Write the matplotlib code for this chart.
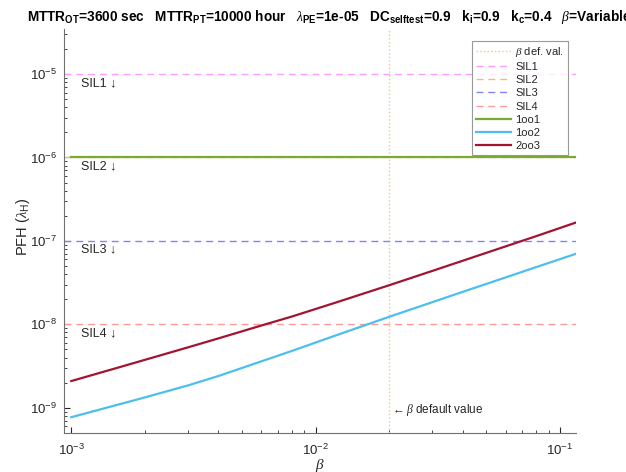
import matplotlib
matplotlib.use("Agg")
import matplotlib.pyplot as plt

plt.rcParams['font.family'] = ['Liberation Sans', 'DejaVu Sans']
plt.rcParams['mathtext.fontset'] = 'custom'
plt.rcParams['mathtext.rm'] = 'Liberation Sans'
plt.rcParams['mathtext.it'] = 'Liberation Serif:italic'
plt.rcParams['mathtext.bf'] = 'Liberation Sans:bold'

# beta sweep and PFH results
beta = [0.001, 0.0015, 0.002, 0.003, 0.004, 0.006, 0.008, 0.012,
        0.02, 0.03, 0.04, 0.06, 0.08, 0.1163]
pfh_1oo1 = [1e-6] * 14
pfh_1oo2 = [7.7e-10, 1.06e-9, 1.33e-9, 1.85e-9, 2.4e-9, 3.6e-9, 4.8e-9, 7.3e-9,
            1.23e-8, 1.84e-8, 2.45e-8, 3.65e-8, 4.85e-8, 7.0e-8]
pfh_2oo3 = [2.09e-9, 2.94e-9, 3.75e-9, 5.29e-9, 6.78e-9, 9.68e-9, 1.24e-8, 1.81e-8,
            2.94e-8, 4.36e-8, 5.78e-8, 8.6e-8, 1.14e-7, 1.66e-7]

sil_names = ["SIL1", "SIL2", "SIL3", "SIL4"]
sil_levels = [1e-5, 1e-6, 1e-7, 1e-8]
sil_colors = ["#ff9cff", "#f5b880", "#8282ff", "#ff9a9a"]
beta_default = 0.02

grey = "#262626"

fig = plt.figure(figsize=(6.26, 4.72), dpi=100)
ax = fig.add_axes([0.1016, 0.0826, 0.8184, 0.8554])
ax.set_xscale("log")
ax.set_yscale("log")

# default beta marker
ax.axvline(beta_default, color="#f8c290", ls=":", lw=1.0, label=r"$\beta$ def. val.")

# SIL limits
for name, lvl, c in zip(sil_names, sil_levels, sil_colors):
    ax.axhline(lvl, color=c, ls=(0, (5, 3.5)), lw=1.0, label=name)
    ax.text(0.001094, lvl * 0.785, name + " \u2193", fontsize=9,
            color=grey, va="center", ha="left")

ax.plot(beta, pfh_1oo1, color="#77ac30", lw=1.6, label="1oo1")
ax.plot(beta, pfh_1oo2, color="#4dbeee", lw=1.6, label="1oo2")
ax.plot(beta, pfh_2oo3, color="#a2142f", lw=1.6, label="2oo3")

ax.text(beta_default * 1.02, 1.0e-9 * 0.93, r"$\leftarrow\beta$ default value",
        fontsize=8.5, color=grey, va="center", ha="left")

ax.set_xlim(0.00093, 0.1163)
ax.set_ylim(4.98e-10, 3.44e-5)

for s in ["top", "right"]:
    ax.spines[s].set_visible(False)
for s in ["left", "bottom"]:
    ax.spines[s].set_color("#707070")
ax.tick_params(which="both", direction="in", colors=grey, labelsize=9.5)
ax.tick_params(which="major", length=4)
ax.tick_params(which="minor", length=2.5)
ax.tick_params(axis="x", pad=7)
ax.tick_params(axis="y", pad=5)

ax.set_xlabel(r"$\beta$", fontsize=11, color=grey, va="center")
ax.xaxis.set_label_coords(0.5, -0.08)
ax.set_ylabel(r"PFH ($\lambda_\mathrm{H}$)", fontsize=10.5, color=grey, va="center")
ax.yaxis.set_label_coords(-0.08, 0.51)

title = (r"MTTR$_\mathbf{OT}$=3600 sec   MTTR$_\mathbf{PT}$=10000 hour   "
         r"$\lambda_\mathbf{PE}$=1e-05   DC$_\mathbf{selftest}$=0.9   "
         r"k$_\mathbf{i}$=0.9   k$_\mathbf{c}$=0.4   $\beta$=Variable")
fig.text(0.526, 0.965, title, fontsize=9.8, fontweight="bold", ha="center",
         va="center", color="black")

leg = ax.legend(loc="upper left", bbox_to_anchor=(0.7535, 0.9137),
                bbox_transform=fig.transFigure, fontsize=8, frameon=True,
                fancybox=False, edgecolor="#808080", handlelength=3.2,
                handletextpad=0.35, labelspacing=0.29, borderpad=0.35,
                borderaxespad=0)
for t in leg.get_texts():
    t.set_color(grey)
leg.get_frame().set_linewidth(0.8)

fig.savefig("out.png", dpi=100)
